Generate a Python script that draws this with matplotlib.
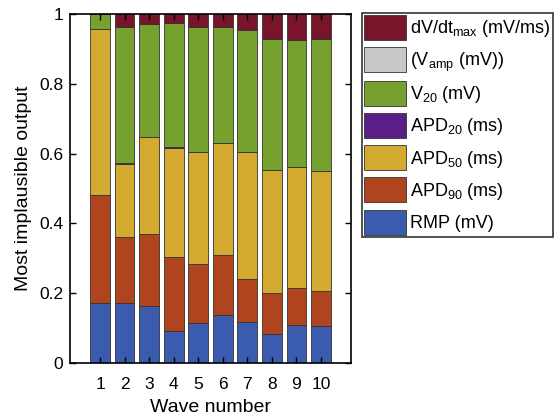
import numpy as np
import matplotlib
matplotlib.use('Agg')
import matplotlib.pyplot as plt

plt.rcParams['font.family'] = ['Liberation Sans', 'DejaVu Sans']
plt.rcParams['mathtext.default'] = 'regular'

# fraction of waves where each output was most implausible
waves = np.arange(1, 11)
rmp = [0.173, 0.171, 0.163, 0.091, 0.115, 0.137, 0.117, 0.083, 0.108, 0.107]
apd90 = [0.307, 0.189, 0.207, 0.213, 0.169, 0.172, 0.123, 0.117, 0.108, 0.099]
apd50 = [0.477, 0.209, 0.278, 0.312, 0.322, 0.320, 0.366, 0.353, 0.347, 0.345]
apd20 = [0.0, 0.003, 0.0, 0.003, 0.0, 0.0, 0.0, 0.0, 0.0, 0.0]
v20 = [0.043, 0.392, 0.322, 0.354, 0.356, 0.335, 0.348, 0.374, 0.363, 0.378]
vamp = [0.0] * 10
dvdt = [0.0, 0.036, 0.030, 0.027, 0.038, 0.036, 0.046, 0.073, 0.074, 0.071]

series = [rmp, apd90, apd50, apd20, v20, vamp, dvdt]
labels = ['RMP (mV)', 'APD$_{90}$ (ms)', 'APD$_{50}$ (ms)', 'APD$_{20}$ (ms)',
          'V$_{20}$ (mV)', '(V$_{amp}$ (mV))', 'dV/dt$_{max}$ (mV/ms)']
colors = ['#3A5BAE', '#B0441E', '#D4A92F', '#5B1E86', '#76A12F', '#C8C8C8', '#78152A']

fig = plt.figure(figsize=(5.56, 4.18), dpi=100)
ax = fig.add_axes([70/556, 55/418, 281/556, 349/418])

bottom = np.zeros(len(waves))
handles = []
for vals, lab, col in zip(series, labels, colors):
    h = ax.bar(waves, vals, width=0.8, bottom=bottom, color=col,
               edgecolor='#333333', linewidth=0.6, label=lab)
    handles.append(h)
    bottom += np.array(vals)

ax.set_xlim(-0.23, 11.23)
ax.set_ylim(0, 1)
ax.set_xticks(waves)
ax.set_yticks([0, 0.2, 0.4, 0.6, 0.8, 1])
ax.set_yticklabels(['0', '0.2', '0.4', '0.6', '0.8', '1'])
ax.tick_params(direction='in', top=True, right=True, labelsize=12.5, length=4, width=1)
ax.tick_params(axis='x', pad=10)
ax.tick_params(axis='y', pad=5)
for s in ax.spines.values():
    s.set_linewidth(1.2)
ax.set_xlabel('Wave number', fontsize=14, labelpad=5)
ax.set_ylabel('Most implausible output', fontsize=14, labelpad=5)

leg = fig.legend(handles[::-1], labels[::-1], loc='upper left',
                 bbox_to_anchor=(362/556, 1 - 13/418), bbox_transform=fig.transFigure,
                 fontsize=13, frameon=True, fancybox=False, edgecolor='black',
                 borderpad=0.12, borderaxespad=0, handlelength=2.3, handleheight=1.75,
                 handletextpad=0.25, labelspacing=0.4)
leg.get_frame().set_linewidth(1.2)

fig.savefig('out.png', dpi=100)
